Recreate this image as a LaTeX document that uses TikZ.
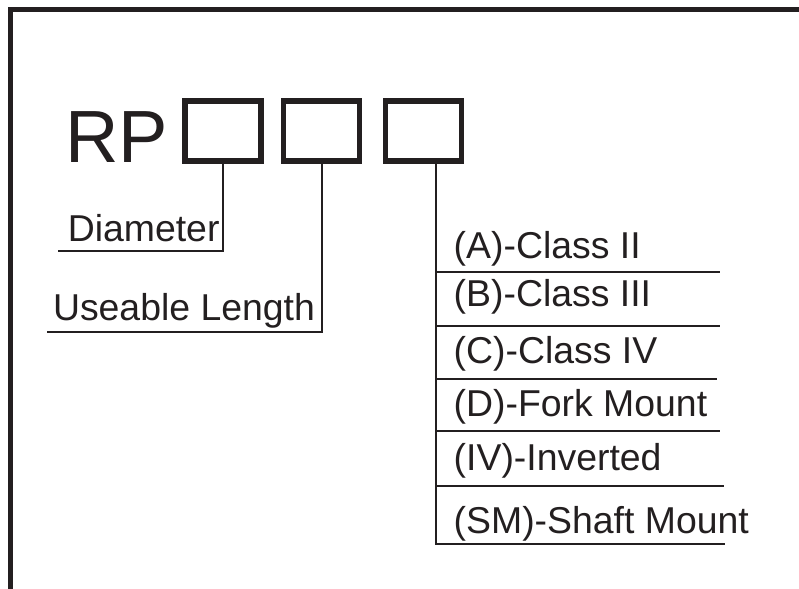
\documentclass[tikz,border=0pt]{standalone}
\usepackage{fontspec}
\setmainfont{Liberation Sans}
\definecolor{ink}{HTML}{231F20}
\begin{document}
\begin{tikzpicture}[x=1pt,y=-1pt,
  codebox/.style={draw=ink,line width=5.5pt,minimum width=76pt,minimum height=60pt,inner sep=0pt,outer sep=0pt},
  lbl/.style={anchor=base west,inner sep=0pt,outer sep=0pt,text=ink,font=\fontsize{37.4}{44}\selectfont},
  thin/.style={draw=ink,line width=2pt},
  frame/.style={draw=ink,line width=5pt}]
\useasboundingbox (0,0) rectangle (799,588);
\draw[frame] (10,600) -- (10,10) -- (810,10);
% title
\node[anchor=base west,inner sep=0pt,text=ink,font=\fontsize{74}{80}\selectfont] (rp) at (65,163) {RP};
% boxes
\node[codebox] (b1) at (223,131) {};
\node[codebox] (b2) at (321.6,131) {};
\node[codebox] (b3) at (423.3,131) {};
% left labels
\node[lbl] (diam) at (67.8,241) {Diameter};
\node[lbl] (len) at (53,320) {Useable Length};
\coordinate (d1) at (223,251);
\coordinate (d0) at (57.5,251);
\coordinate (l1) at (321.6,331.7);
\coordinate (l0) at (46.5,331.7);
\draw[thin] (b1.south) -- (d1) -- (d0);
\draw[thin] (b2.south) -- (l1) -- (l0);
% right list
\node[lbl] (oa) at (453.7,258.3) {(A)-Class II};
\node[lbl] (ob) at (453.7,306.7) {(B)-Class III};
\node[lbl] (oc) at (453.7,363.3) {(C)-Class IV};
\node[lbl] (od) at (453.7,416.7) {(D)-Fork Mount};
\node[lbl] (oiv) at (453.7,470) {(IV)-Inverted};
\node[lbl] (osm) at (453.7,533.3) {(SM)-Shaft Mount};
\coordinate (v0) at ([xshift=12.4pt]b3.south);
\coordinate (va) at (435.7,272.3);
\coordinate (vb) at (435.7,326);
\coordinate (vc) at (435.7,378.8);
\coordinate (vd) at (435.7,430.7);
\coordinate (viv) at (435.7,485.5);
\coordinate (vsm) at (435.7,544);
\coordinate (ea) at (720,272.3);
\coordinate (eb) at (720,326);
\coordinate (ec) at (717,378.8);
\coordinate (ed) at (720,430.7);
\coordinate (eiv) at (724,485.5);
\coordinate (esm) at (725,544);
\draw[thin] (v0) -- (vsm) -- (esm);
\draw[thin] (va) -- (ea);
\draw[thin] (vb) -- (eb);
\draw[thin] (vc) -- (ec);
\draw[thin] (vd) -- (ed);
\draw[thin] (viv) -- (eiv);
\end{tikzpicture}
\end{document}
